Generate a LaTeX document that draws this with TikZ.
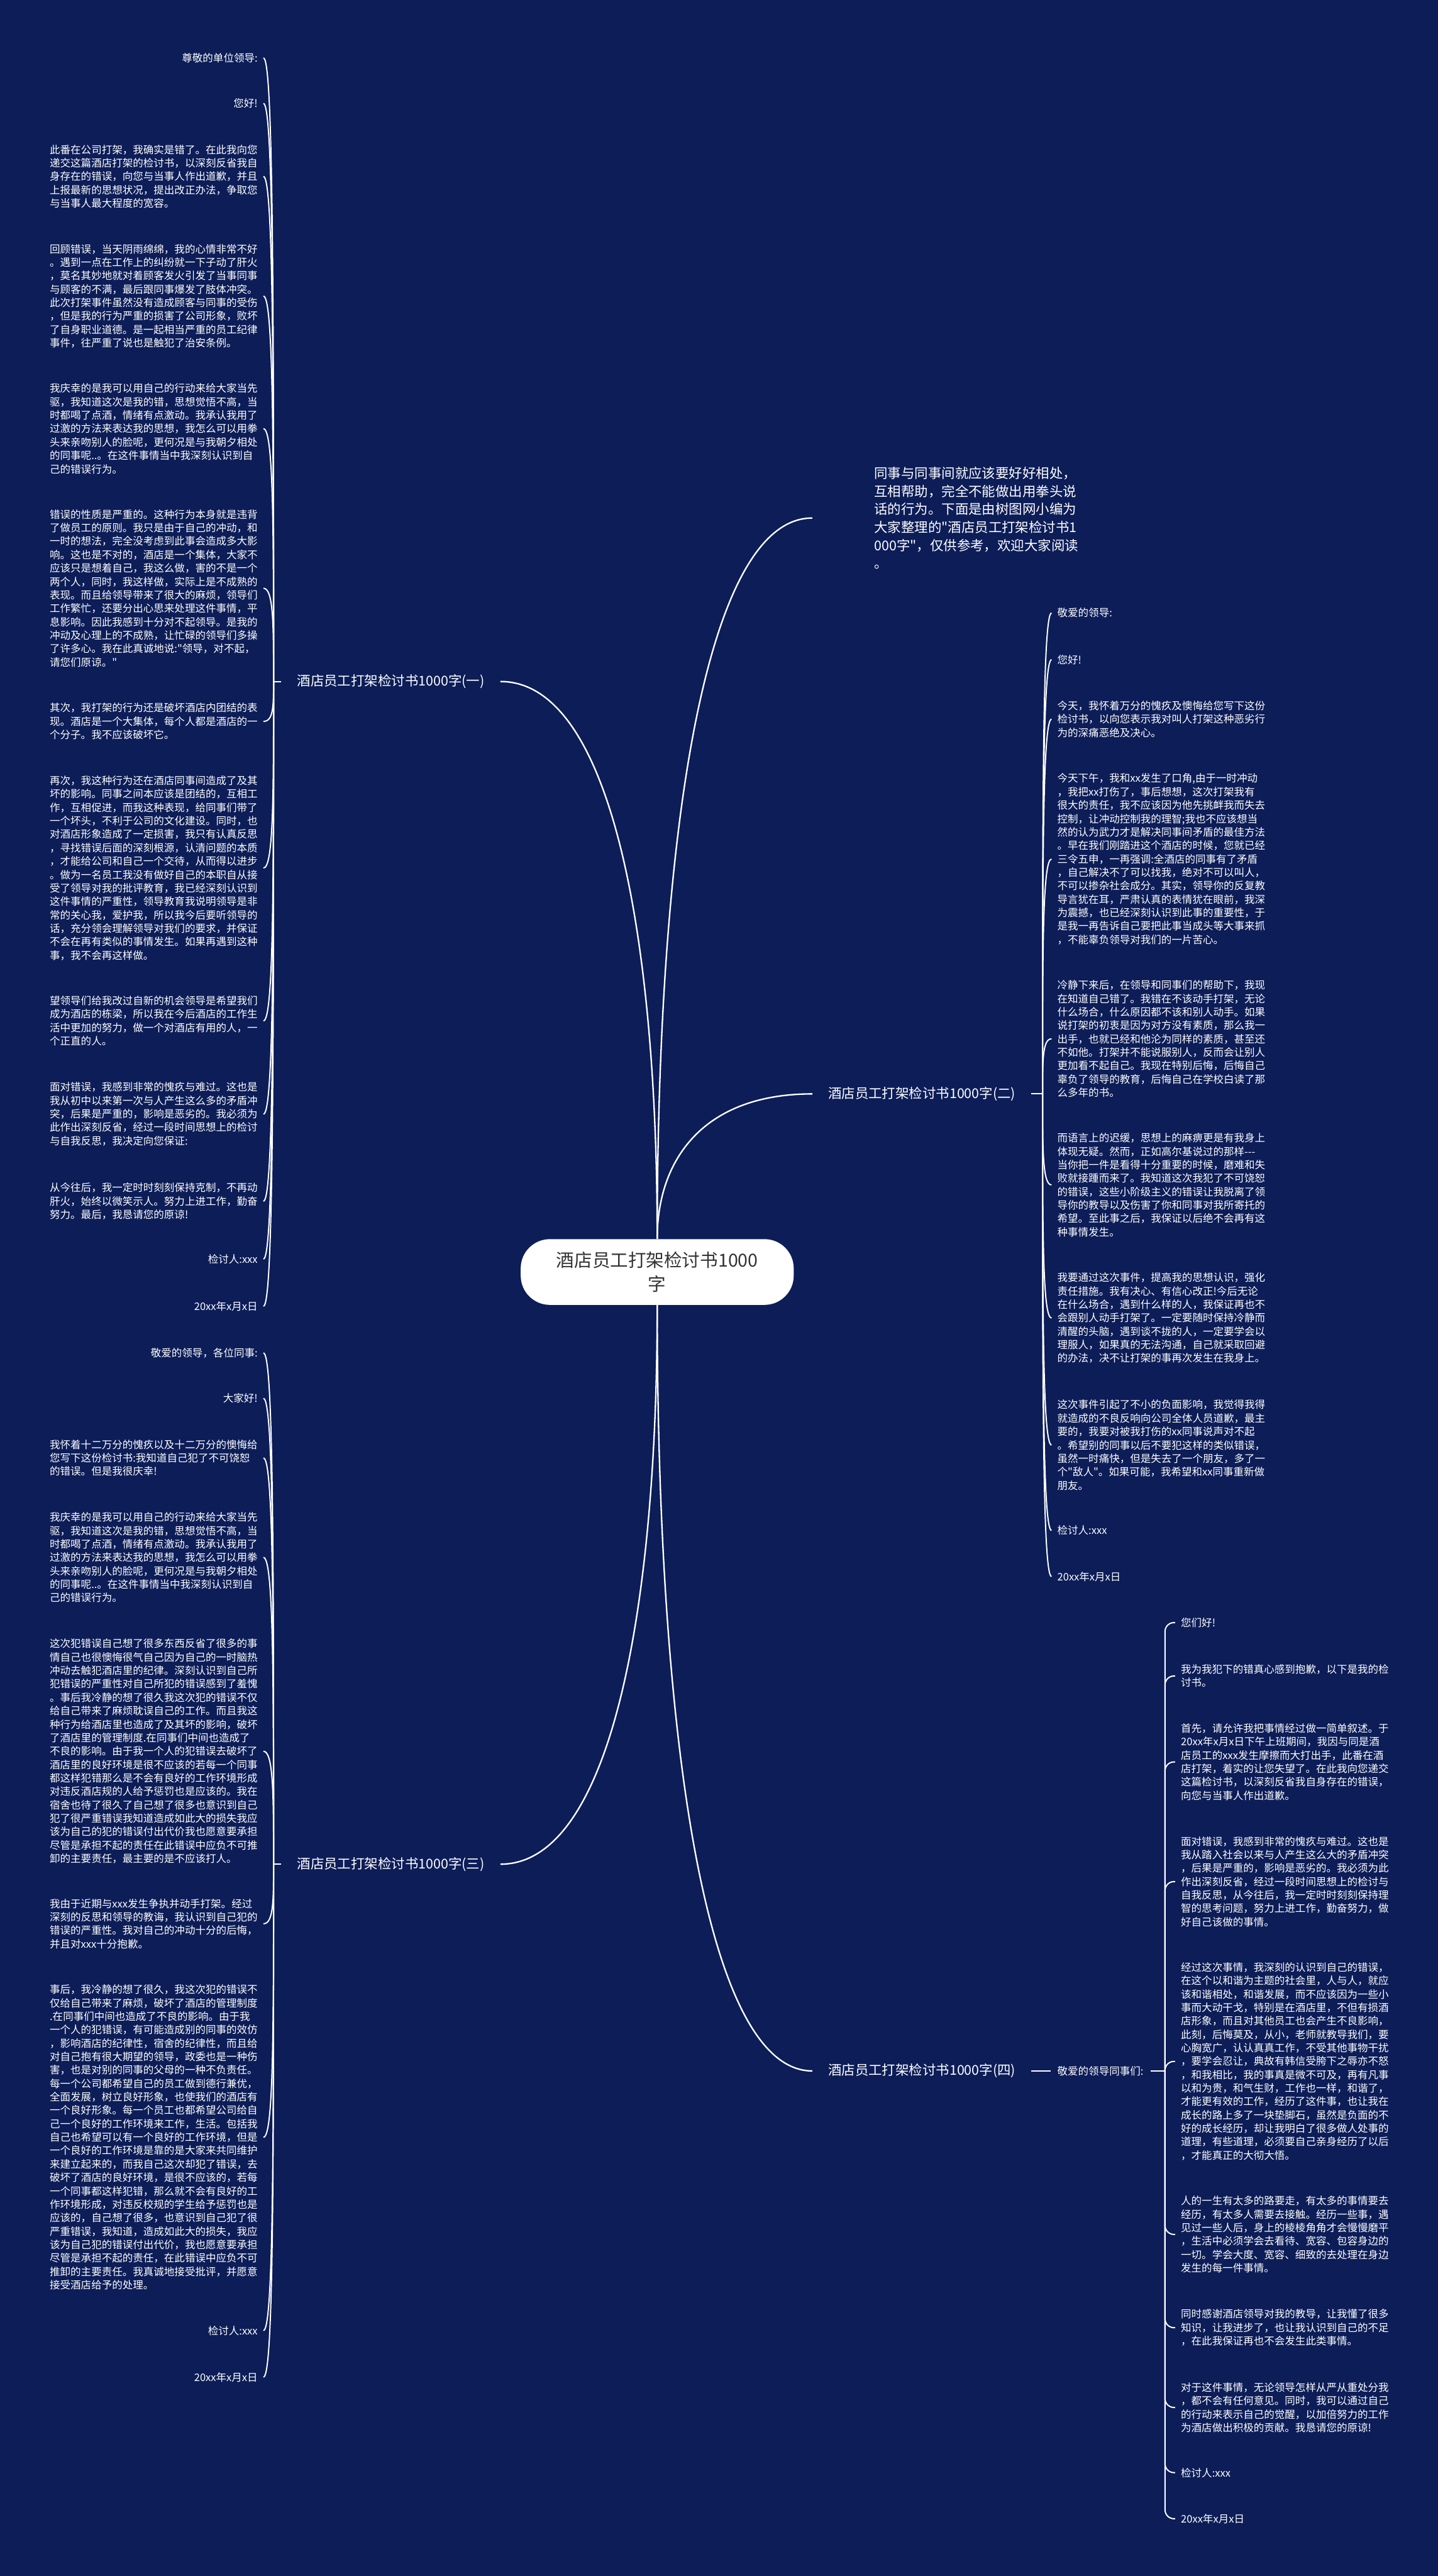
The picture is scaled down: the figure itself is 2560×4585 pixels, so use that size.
\documentclass[tikz,border=0pt]{standalone}
\usepackage{fontspec}
\newfontfamily\cjk{Noto Sans CJK SC}
\usetikzlibrary{calc}
\definecolor{bg}{RGB}{12,29,88}
\definecolor{ctext}{RGB}{51,51,51}
\newcommand\mcurve[2]{\coordinate (k) at (#1 |- #2);
  \draw[main] (#1) .. controls ($(#1)!0.55!(k)$) and ($(#2)!0.7!(k)$) .. (#2);}
\begin{document}
\begin{tikzpicture}[x=0.5pt, y=-0.5pt,
  body/.style={font=\cjk\fontsize{9.25pt}{11.95pt}\selectfont, text=white, inner xsep=5pt, inner ysep=1pt},
  para/.style={body, text width=185pt, align=left},
  lab/.style={font=\cjk\fontsize{12pt}{16pt}\selectfont, text=white, inner xsep=14pt, inner ysep=2pt},
  centernode/.style={font=\cjk\fontsize{16pt}{21pt}\selectfont, text=ctext, fill=white, rounded corners=26pt, minimum width=243pt, minimum height=58.5pt, align=center},
  main/.style={draw=white, line width=1.3pt},
  brl/.style={draw=white, line width=1.1pt},
]
\fill[bg] (0,0) rectangle (2560,4585);
\useasboundingbox (0,0) rectangle (2560,4585);

% centre
\node[centernode] (c) at (1170,2264) {酒店员工打架检讨书1000\\字};

% intro
\node[font=\cjk\fontsize{12pt}{16pt}\selectfont, text=white, anchor=west, inner xsep=55pt, text width=185pt, align=left] (intro) at (1446,922) {同事与同事间就应该要好好相处，\\互相帮助，完全不能做出用拳头说\\话的行为。下面是由树图网小编为\\大家整理的"酒店员工打架检讨书1\\000字"，仅供参考，欢迎大家阅读\\。};

% branch labels
\node[lab, anchor=east] (b1) at (891,1213) {酒店员工打架检讨书1000字(一)};
\node[lab, anchor=west] (b2) at (1446,1947) {酒店员工打架检讨书1000字(二)};
\node[lab, anchor=east] (b3) at (891,3318) {酒店员工打架检讨书1000字(三)};
\node[lab, anchor=west] (b4) at (1446,3686) {酒店员工打架检讨书1000字(四)};

\mcurve{c.north}{intro.west}
\mcurve{c.north}{b1.east}
\mcurve{c.north}{b2.west}
\mcurve{c.south}{b3.east}
\mcurve{c.south}{b4.west}

\coordinate (J1) at (487,1213);
\coordinate (J2) at (1856,1947);
\coordinate (J3) at (487,3318);
\coordinate (J4) at (2074,3686);

% ---------- branch 1 ----------
\node[body, anchor=east] (a1) at (469,103) {尊敬的单位领导:};
\node[body, anchor=east] (a2) at (469,184) {您好!};
\node[para, anchor=east] (a3) at (469,314) {此番在公司打架，我确实是错了。在此我向您\\递交这篇酒店打架的检讨书，以深刻反省我自\\身存在的错误，向您与当事人作出道歉，并且\\上报最新的思想状况，提出改正办法，争取您\\与当事人最大程度的宽容。};
\node[para, anchor=east] (a4) at (469,527) {回顾错误，当天阴雨绵绵，我的心情非常不好\\。遇到一点在工作上的纠纷就一下子动了肝火\\，莫名其妙地就对着顾客发火引发了当事同事\\与顾客的不满，最后跟同事爆发了肢体冲突。\\此次打架事件虽然没有造成顾客与同事的受伤\\，但是我的行为严重的损害了公司形象，败坏\\了自身职业道德。是一起相当严重的员工纪律\\事件，往严重了说也是触犯了治安条例。};
\node[para, anchor=east] (a5) at (469,763) {我庆幸的是我可以用自己的行动来给大家当先\\驱，我知道这次是我的错，思想觉悟不高，当\\时都喝了点酒，情绪有点激动。我承认我用了\\过激的方法来表达我的思想，我怎么可以用拳\\头来亲吻别人的脸呢，更何况是与我朝夕相处\\的同事呢..。在这件事情当中我深刻认识到自\\己的错误行为。};
\node[para, anchor=east] (a6) at (469,1047) {错误的性质是严重的。这种行为本身就是违背\\了做员工的原则。我只是由于自己的冲动，和\\一时的想法，完全没考虑到此事会造成多大影\\响。这也是不对的，酒店是一个集体，大家不\\应该只是想着自己，我这么做，害的不是一个\\两个人，同时，我这样做，实际上是不成熟的\\表现。而且给领导带来了很大的麻烦，领导们\\工作繁忙，还要分出心思来处理这件事情，平\\息影响。因此我感到十分对不起领导。是我的\\冲动及心理上的不成熟，让忙碌的领导们多操\\了许多心。我在此真诚地说:"领导，对不起，\\请您们原谅。"};
\node[para, anchor=east] (a7) at (469,1284) {其次，我打架的行为还是破坏酒店内团结的表\\现。酒店是一个大集体，每个人都是酒店的一\\个分子。我不应该破坏它。};
\node[para, anchor=east] (a8) at (469,1545) {再次，我这种行为还在酒店同事间造成了及其\\坏的影响。同事之间本应该是团结的，互相工\\作，互相促进，而我这种表现，给同事们带了\\一个坏头，不利于公司的文化建设。同时，也\\对酒店形象造成了一定损害，我只有认真反思\\，寻找错误后面的深刻根源，认清问题的本质\\，才能给公司和自己一个交待，从而得以进步\\。做为一名员工我没有做好自己的本职自从接\\受了领导对我的批评教育，我已经深刻认识到\\这件事情的严重性，领导教育我说明领导是非\\常的关心我，爱护我，所以我今后要听领导的\\话，充分领会理解领导对我们的要求，并保证\\不会在再有类似的事情发生。如果再遇到这种\\事，我不会再这样做。};
\node[para, anchor=east] (a9) at (469,1817) {望领导们给我改过自新的机会领导是希望我们\\成为酒店的栋梁，所以我在今后酒店的工作生\\活中更加的努力，做一个对酒店有用的人，一\\个正直的人。};
\node[para, anchor=east] (a10) at (469,1983) {面对错误，我感到非常的愧疚与难过。这也是\\我从初中以来第一次与人产生这么多的矛盾冲\\突，后果是严重的，影响是恶劣的。我必须为\\此作出深刻反省，经过一段时间思想上的检讨\\与自我反思，我决定向您保证:};
\node[para, anchor=east] (a11) at (469,2138) {从今往后，我一定时时刻刻保持克制，不再动\\肝火，始终以微笑示人。努力上进工作，勤奋\\努力。最后，我恳请您的原谅!};
\node[body, anchor=east] (a12) at (469,2241) {检讨人:xxx};
\node[body, anchor=east] (a13) at (469,2325) {20xx年x月x日};

% ---------- branch 2 ----------
\node[body, anchor=west] (e1) at (1872,1091) {敬爱的领导:};
\node[body, anchor=west] (e2) at (1872,1174) {您好!};
\node[para, anchor=west] (e3) at (1872,1280) {今天，我怀着万分的愧疚及懊悔给您写下这份\\检讨书，以向您表示我对叫人打架这种恶劣行\\为的深痛恶绝及决心。};
\node[para, anchor=west] (e4) at (1872,1529) {今天下午，我和xx发生了口角,由于一时冲动\\，我把xx打伤了，事后想想，这次打架我有\\很大的责任，我不应该因为他先挑衅我而失去\\控制，让冲动控制我的理智;我也不应该想当\\然的认为武力才是解决同事间矛盾的最佳方法\\。早在我们刚踏进这个酒店的时候，您就已经\\三令五申，一再强调:全酒店的同事有了矛盾\\，自己解决不了可以找我，绝对不可以叫人，\\不可以掺杂社会成分。其实，领导你的反复教\\导言犹在耳，严肃认真的表情犹在眼前，我深\\为震撼，也已经深刻认识到此事的重要性，于\\是我一再告诉自己要把此事当成头等大事来抓\\，不能辜负领导对我们的一片苦心。};
\node[para, anchor=west] (e5) at (1872,1849) {冷静下来后，在领导和同事们的帮助下，我现\\在知道自己错了。我错在不该动手打架，无论\\什么场合，什么原因都不该和别人动手。如果\\说打架的初衷是因为对方没有素质，那么我一\\出手，也就已经和他沦为同样的素质，甚至还\\不如他。打架并不能说服别人，反而会让别人\\更加看不起自己。我现在特别后悔，后悔自己\\辜负了领导的教育，后悔自己在学校白读了那\\么多年的书。};
\node[para, anchor=west] (e6) at (1872,2109) {而语言上的迟缓，思想上的麻痹更是有我身上\\体现无疑。然而，正如高尔基说过的那样---\\当你把一件是看得十分重要的时候，磨难和失\\败就接踵而来了。我知道这次我犯了不可饶恕\\的错误，这些小阶级主义的错误让我脱离了领\\导你的教导以及伤害了你和同事对我所寄托的\\希望。至此事之后，我保证以后绝不会再有这\\种事情发生。};
\node[para, anchor=west] (e7) at (1872,2346) {我要通过这次事件，提高我的思想认识，强化\\责任措施。我有决心、有信心改正!今后无论\\在什么场合，遇到什么样的人，我保证再也不\\会跟别人动手打架了。一定要随时保持冷静而\\清醒的头脑，遇到谈不拢的人，一定要学会以\\理服人，如果真的无法沟通，自己就采取回避\\的办法，决不让打架的事再次发生在我身上。};
\node[para, anchor=west] (e8) at (1872,2572) {这次事件引起了不小的负面影响，我觉得我得\\就造成的不良反响向公司全体人员道歉，最主\\要的，我要对被我打伤的xx同事说声对不起\\。希望别的同事以后不要犯这样的类似错误，\\虽然一时痛快，但是失去了一个朋友，多了一\\个"敌人"。如果可能，我希望和xx同事重新做\\朋友。};
\node[body, anchor=west] (e9) at (1872,2724) {检讨人:xxx};
\node[body, anchor=west] (e10) at (1872,2806) {20xx年x月x日};

% ---------- branch 3 ----------
\node[body, anchor=east] (g1) at (469,2408) {敬爱的领导，各位同事:};
\node[body, anchor=east] (g2) at (469,2489) {大家好!};
\node[para, anchor=east] (g3) at (469,2595) {我怀着十二万分的愧疚以及十二万分的懊悔给\\您写下这份检讨书:我知道自己犯了不可饶恕\\的错误。但是我很庆幸!};
\node[para, anchor=east] (g4) at (469,2772) {我庆幸的是我可以用自己的行动来给大家当先\\驱，我知道这次是我的错，思想觉悟不高，当\\时都喝了点酒，情绪有点激动。我承认我用了\\过激的方法来表达我的思想，我怎么可以用拳\\头来亲吻别人的脸呢，更何况是与我朝夕相处\\的同事呢..。在这件事情当中我深刻认识到自\\己的错误行为。};
\node[para, anchor=east] (g5) at (469,3117) {这次犯错误自己想了很多东西反省了很多的事\\情自己也很懊悔很气自己因为自己的一时脑热\\冲动去触犯酒店里的纪律。深刻认识到自己所\\犯错误的严重性对自己所犯的错误感到了羞愧\\。事后我冷静的想了很久我这次犯的错误不仅\\给自己带来了麻烦耽误自己的工作。而且我这\\种行为给酒店里也造成了及其坏的影响，破坏\\了酒店里的管理制度.在同事们中间也造成了\\不良的影响。由于我一个人的犯错误去破坏了\\酒店里的良好环境是很不应该的若每一个同事\\都这样犯错那么是不会有良好的工作环境形成\\对违反酒店规的人给予惩罚也是应该的。我在\\宿舍也待了很久了自己想了很多也意识到自己\\犯了很严重错误我知道造成如此大的损失我应\\该为自己的犯的错误付出代价我也愿意要承担\\尽管是承担不起的责任在此错误中应负不可推\\卸的主要责任，最主要的是不应该打人。};
\node[para, anchor=east] (g6) at (469,3424) {我由于近期与xxx发生争执并动手打架。经过\\深刻的反思和领导的教诲，我认识到自己犯的\\错误的严重性。我对自己的冲动十分的后悔，\\并且对xxx十分抱歉。};
\node[para, anchor=east] (g7) at (469,3804) {事后，我冷静的想了很久，我这次犯的错误不\\仅给自己带来了麻烦，破坏了酒店的管理制度\\.在同事们中间也造成了不良的影响。由于我\\一个人的犯错误，有可能造成别的同事的效仿\\，影响酒店的纪律性，宿舍的纪律性，而且给\\对自己抱有很大期望的领导，政委也是一种伤\\害，也是对别的同事的父母的一种不负责任。\\每一个公司都希望自己的员工做到德行兼优，\\全面发展，树立良好形象，也使我们的酒店有\\一个良好形象。每一个员工也都希望公司给自\\己一个良好的工作环境来工作，生活。包括我\\自己也希望可以有一个良好的工作环境，但是\\一个良好的工作环境是靠的是大家来共同维护\\来建立起来的，而我自己这次却犯了错误，去\\破坏了酒店的良好环境，是很不应该的，若每\\一个同事都这样犯错，那么就不会有良好的工\\作环境形成，对违反校规的学生给予惩罚也是\\应该的，自己想了很多，也意识到自己犯了很\\严重错误，我知道，造成如此大的损失，我应\\该为自己犯的错误付出代价，我也愿意要承担\\尽管是承担不起的责任，在此错误中应负不可\\推卸的主要责任。我真诚地接受批评，并愿意\\接受酒店给予的处理。};
\node[body, anchor=east] (g8) at (469,4148) {检讨人:xxx};
\node[body, anchor=east] (g9) at (469,4231) {20xx年x月x日};

% ---------- branch 4 ----------
\node[body, anchor=west, inner xsep=6pt] (p4) at (1870,3686) {敬爱的领导同事们:};
\node[body, anchor=west] (d1) at (2092,2888) {您们好!};
\node[para, anchor=west] (d2) at (2092,2983) {我为我犯下的错真心感到抱歉，以下是我的检\\讨书。};
\node[para, anchor=west] (d3) at (2092,3136) {首先，请允许我把事情经过做一简单叙述。于\\20xx年x月x日下午上班期间，我因与同是酒\\店员工的xxx发生摩擦而大打出手，此番在酒\\店打架，着实的让您失望了。在此我向您递交\\这篇检讨书，以深刻反省我自身存在的错误，\\向您与当事人作出道歉。};
\node[para, anchor=west] (d4) at (2092,3349) {面对错误，我感到非常的愧疚与难过。这也是\\我从踏入社会以来与人产生这么大的矛盾冲突\\，后果是严重的，影响是恶劣的。我必须为此\\作出深刻反省，经过一段时间思想上的检讨与\\自我反思，从今往后，我一定时时刻刻保持理\\智的思考问题，努力上进工作，勤奋努力，做\\好自己该做的事情。};
\node[para, anchor=west] (d5) at (2092,3669) {经过这次事情，我深刻的认识到自己的错误，\\在这个以和谐为主题的社会里，人与人，就应\\该和谐相处，和谐发展，而不应该因为一些小\\事而大动干戈，特别是在酒店里，不但有损酒\\店形象，而且对其他员工也会产生不良影响，\\此刻，后悔莫及，从小，老师就教导我们，要\\心胸宽广，认认真真工作，不受其他事物干扰\\，要学会忍让，典故有韩信受胯下之辱亦不怒\\，和我相比，我的事真是微不可及，再有凡事\\以和为贵，和气生财，工作也一样，和谐了，\\才能更有效的工作，经历了这件事，也让我在\\成长的路上多了一块垫脚石，虽然是负面的不\\好的成长经历，却让我明白了很多做人处事的\\道理，有些道理，必须要自己亲身经历了以后\\，才能真正的大彻大悟。};
\node[para, anchor=west] (d6) at (2092,3977) {人的一生有太多的路要走，有太多的事情要去\\经历，有太多人需要去接触。经历一些事，遇\\见过一些人后，身上的棱棱角角才会慢慢磨平\\，生活中必须学会去看待、宽容、包容身边的\\一切。学会大度、宽容、细致的去处理在身边\\发生的每一件事情。};
\node[para, anchor=west] (d7) at (2092,4143) {同时感谢酒店领导对我的教导，让我懂了很多\\知识，让我进步了，也让我认识到自己的不足\\，在此我保证再也不会发生此类事情。};
\node[para, anchor=west] (d8) at (2092,4285) {对于这件事情，无论领导怎样从严从重处分我\\，都不会有任何意见。同时，我可以通过自己\\的行动来表示自己的觉醒，以加倍努力的工作\\为酒店做出积极的贡献。我恳请您的原谅!};
\node[body, anchor=west] (d9) at (2092,4401) {检讨人:xxx};
\node[body, anchor=west] (d10) at (2092,4483) {20xx年x月x日};

% short links
\draw[brl] (J1) -- (b1.west);
\draw[brl] (b2.east) -- (J2);
\draw[brl] (J3) -- (b3.west);
\draw[brl] (b4.east) -- (p4.west);
\draw[brl] (p4.east) -- (J4);

% bracket curves
\foreach \i in {1,...,13}{
  \coordinate (k) at (J1 |- a\i.east);
  \draw[brl] (J1) .. controls ($(J1)!0.6!(k)$) and (k) .. (a\i.east);
}
\foreach \i in {1,...,10}{
  \coordinate (k) at (J2 |- e\i.west);
  \draw[brl] (J2) .. controls ($(J2)!0.6!(k)$) and (k) .. (e\i.west);
}
\foreach \i in {1,...,9}{
  \coordinate (k) at (J3 |- g\i.east);
  \draw[brl] (J3) .. controls ($(J3)!0.6!(k)$) and (k) .. (g\i.east);
}
\foreach \i in {1,...,10}{
  \draw[brl, rounded corners=8pt] (J4) |- (d\i.west);
}
\end{tikzpicture}
\end{document}
